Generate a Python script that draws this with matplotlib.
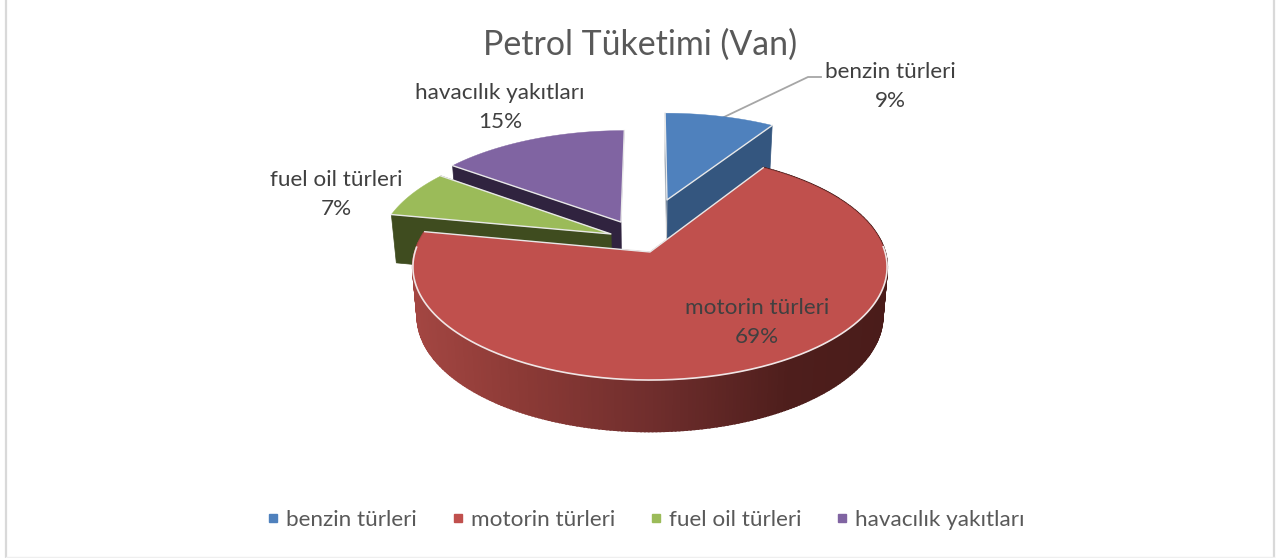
import numpy as np
import matplotlib
matplotlib.use('Agg')
import matplotlib.pyplot as plt
from matplotlib.colors import to_rgb
from matplotlib.lines import Line2D
from matplotlib.patches import Polygon

plt.rcParams['font.family'] = ['Lato', 'DejaVu Sans']

# Data
title = 'Petrol Tüketimi (Van)'
categories = ['benzin türleri', 'motorin türleri', 'fuel oil türleri', 'havacılık yakıtları']
percent = [9, 69, 7, 15]

# Styles
top_colors = ['#4f81bd', '#c0504d', '#9bbb59', '#8064a2']
side_colors = ['#34567f', '#7a2f2d', '#3f4c1f', '#30233f']
explode_u = [0.077, 0.0, -0.17, -0.128]
explode_v = [0.5, 0.0, 0.166, 0.28]
edge_color = '#e8e8e8'
text_gray = '#595959'
label_gray = '#404040'

# perspective of the pie, in pixels
cx = 650
y_top, a_top, b_top = 252, 111, 235
y_bot, a_bot, b_bot = 301, 113, 230.5
k = 0.133


def project(u, v, bottom=False):
    w = 1 + k * v
    if bottom:
        return cx + b_bot * u / w, y_bot - a_bot * v / w
    return cx + b_top * u / w, y_top - a_top * v / w


def add_poly(ax, xs, ys, color, edge=None, lw=0.0, z=1):
    patch = Polygon(np.column_stack([xs, ys]), closed=True, facecolor=color,
                    edgecolor=edge if edge else color, linewidth=lw, zorder=z)
    ax.add_patch(patch)
    return patch


fig = plt.figure(figsize=(12.88, 5.58), dpi=100)
ax = fig.add_axes([0, 0, 1, 1])

# chart frame
ax.plot([6, 6], [0, 558], color='#d9d9d9', lw=1.6, zorder=0)
ax.plot([1274, 1274], [0, 558], color='#d9d9d9', lw=1.6, zorder=0)
ax.plot([6, 1274], [557, 557], color='#efefef', lw=1.0, zorder=0)

edges = np.cumsum([0] + percent) / sum(percent) * 2 * np.pi
draw_order = [3, 2, 0, 1]

for i in draw_order:
    th0, th1 = edges[i], edges[i + 1]
    du, dv = explode_u[i], explode_v[i]
    th = np.linspace(th0, th1, 300)
    u = du + np.sin(th)
    v = dv + np.cos(th)
    z = 2 + draw_order.index(i)

    # cut faces, the red ones look away and the purple th1 one is edge-on
    for t in [th1, th0]:
        if i == 1 or (i == 3 and t == th1):
            continue
        uu = np.array([du, du + np.sin(t)])
        vv = np.array([dv, dv + np.cos(t)])
        xa, ya = project(uu, vv)
        xb, yb = project(uu, vv, bottom=True)
        add_poly(ax, [xa[0], xa[1], xb[1], xb[0]], [ya[0], ya[1], yb[1], yb[0]],
                 side_colors[i], edge='#cfcfcf' if t == th0 and i == 0 else None, lw=0.5, z=z)

    xa, ya = project(u, v)
    xb, yb = project(u, v, bottom=True)
    if i == 1:
        # red outer wall shades from left to right, only this wall can be seen
        stops_x = [413, 520, 650, 790, 887]
        stops_col = ['#a34642', '#8c3a36', '#702e2d', '#4e1e1c', '#4a1c1a']
        stops_rgb = np.array([to_rgb(c) for c in stops_col])
        for j in range(len(th) - 1):
            xm = (xa[j] + xa[j + 1]) / 2
            col = [np.interp(xm, stops_x, stops_rgb[:, c]) for c in range(3)]
            add_poly(ax, [xa[j], xa[j + 1], xb[j + 1], xb[j]], [ya[j], ya[j + 1], yb[j + 1], yb[j]],
                     col, lw=1.4, z=z)

    # top face, light edge only on the cuts and on the front of the rim
    xc, yc = project(du, dv)
    add_poly(ax, np.r_[xc, xa], np.r_[yc, ya], top_colors[i], lw=0.3, z=z + 0.5)
    ax.plot([xa[0], xc, xa[-1]], [ya[0], yc, ya[-1]], color=edge_color, lw=1.0, zorder=z + 0.6)
    if i == 1:
        front = v < 0.05
        ax.plot(xa[front], ya[front], color='#f0e6e6', lw=1.2, zorder=z + 0.6)

ax.set_xlim(0, 1288)
ax.set_ylim(558, 0)
ax.axis('off')

# texts
ax.text(640, 44.5, title, ha='center', va='center', fontsize=24.4, color=text_gray)

label_pos = [(890, 86.5), (757, 322.5), (336, 194.5), (500, 107.5)]
for name, p, (lx, ly) in zip(categories, percent, label_pos):
    ax.text(lx, ly, name + '\n' + str(p) + '%', ha='center', va='center', fontsize=16.2,
            color=label_gray, linespacing=1.53, zorder=20)

# leader line of the blue slice
ax.plot([722, 808, 821], [118, 77, 77], color='#a6a6a6', lw=1.3, zorder=1)

handles = [Line2D([], [], linestyle='none', marker='s', markersize=5.5, color=c) for c in top_colors]
ax.legend(handles, categories, loc='center', bbox_to_anchor=(646 / 1288, 1 - 520 / 558), ncol=4,
          frameon=False, fontsize=16.2, labelcolor=text_gray, handlelength=0.5, handletextpad=0.32,
          columnspacing=1.57, borderpad=0)

fig.savefig('out.png', dpi=100)
